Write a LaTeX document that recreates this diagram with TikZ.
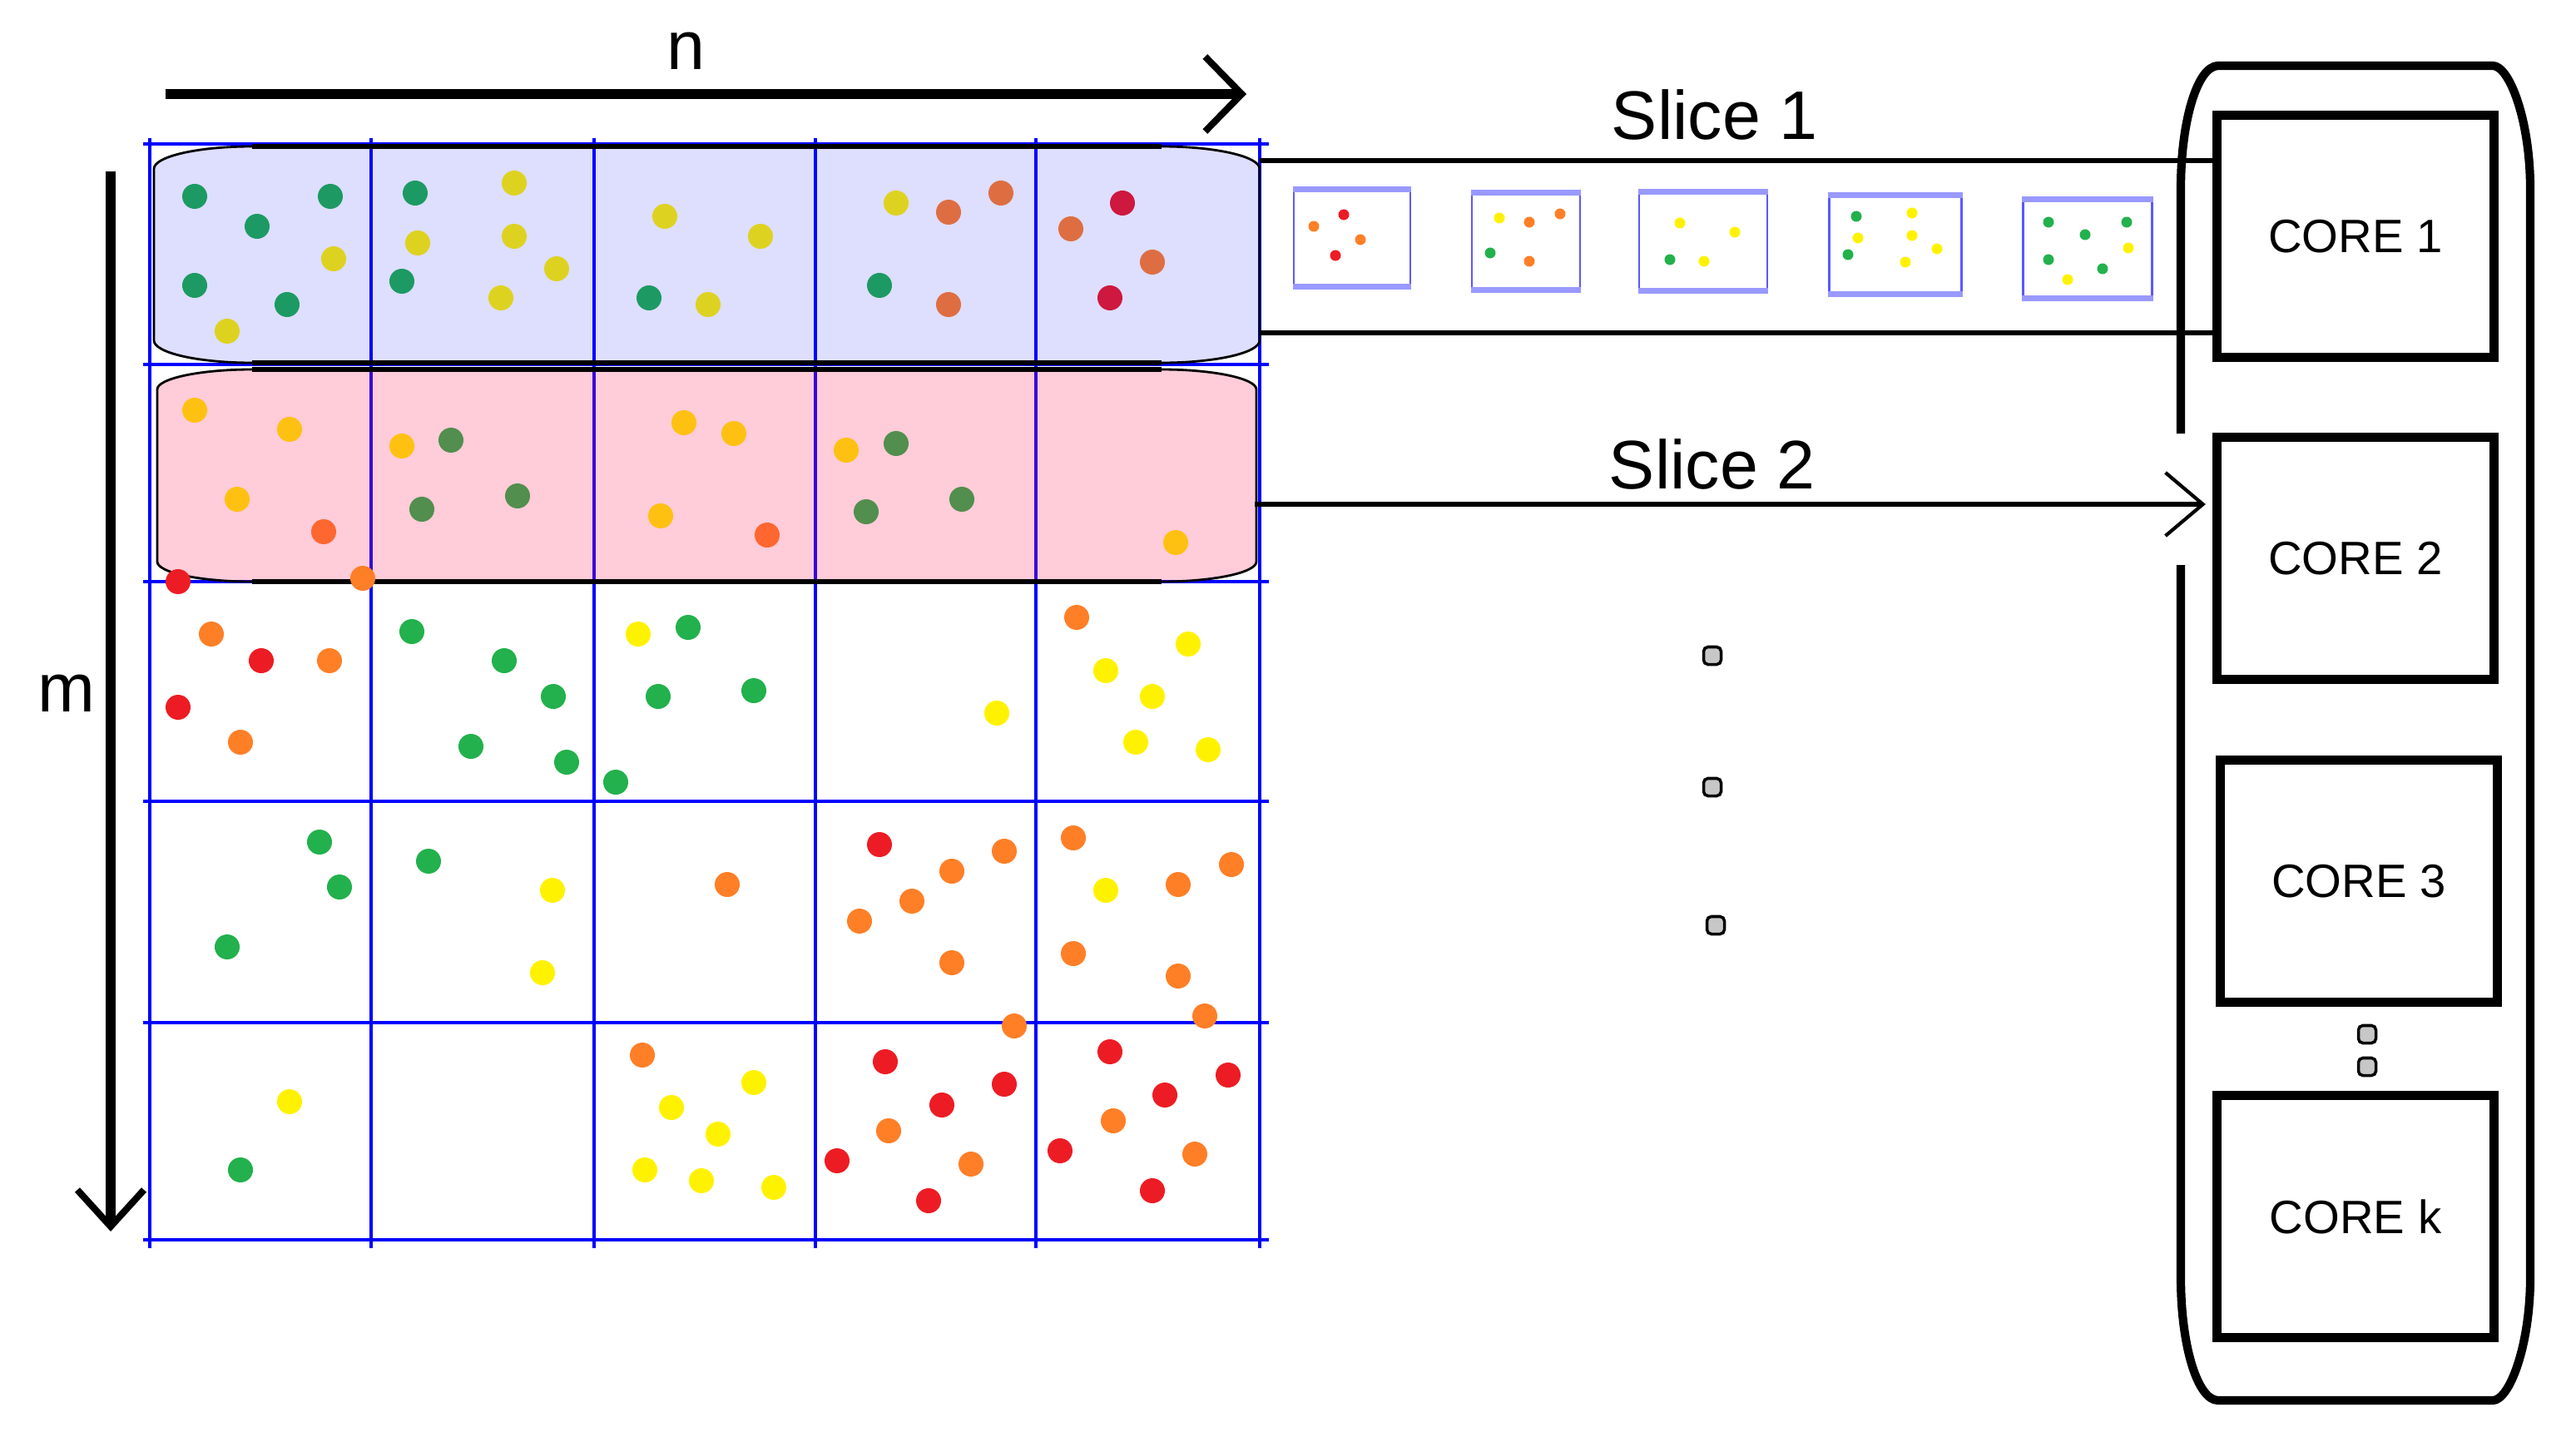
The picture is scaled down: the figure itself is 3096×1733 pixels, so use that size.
\documentclass[tikz,border=0pt]{standalone}
\usepackage{fontspec}
\setmainfont{Liberation Sans}
\usetikzlibrary{arrows.meta, calc}
\definecolor{dotR}{RGB}{237,28,36}
\definecolor{dotO}{RGB}{255,127,39}
\definecolor{dotY}{RGB}{255,242,0}
\definecolor{dotG}{RGB}{34,177,76}
\definecolor{slice-blue}{RGB}{0,0,255}
\definecolor{slice-pink}{RGB}{255,21,81}
\tikzset{
    my-grid/.style={
        draw=blue, line width=1.1pt
    },
    my-slice/.style={
        draw=black, line width=0.8pt
    },
    my-slice-edge/.style={
        draw=black, line width=1.5pt
    },
    my-core/.style={
        draw, line width=3.1pt, minimum width=3.33cm, minimum height=2.91cm,
        inner sep=0pt, font=\fontsize{16}{19}\selectfont
    },
    my-label/.style={
        inner sep=0pt, font=\fontsize{23.5}{28}\selectfont
    },
    my-tile/.style={
        draw=blue!65, line width=0.8pt, inner sep=0pt
    },
    my-tile-band/.style={
        draw=blue!40, line width=2pt
    },
    my-ellipsis/.style={
        draw, fill=black!22, line width=1pt, rounded corners=1.5pt,
        minimum size=0.21cm, inner sep=0pt
    },
}

\begin{document}
\begin{tikzpicture}[x=0.01cm, y=-0.01cm]
        \useasboundingbox (0,0) rectangle (3096,1733);

        % GRID
        \foreach \x in {180,446,714,980,1245,1514}
            \draw[my-grid] (\x,166) -- (\x,1500);
        \foreach \y in {173,438,699,963,1229,1490}
            \draw[my-grid] (172,\y) -- (1525,\y);

        % POINTS IN THE GRID
        \foreach \x/\y/\c in {
            234/236/G, 397/236/G, 309/272/G, 401/311/Y, 234/343/G, 345/366/G, 273/398/Y,
            499/232/G, 618/220/Y, 502/292/Y, 618/284/Y, 669/323/Y, 483/338/G, 602/358/Y,
            799/260/Y, 914/284/Y, 780/358/G, 851/366/Y,
            1077/244/Y, 1140/255/O, 1203/232/O, 1057/343/G, 1140/366/O,
            1349/244/R, 1287/275/O, 1385/315/O, 1334/358/R,
            234/493/Y, 348/516/Y, 285/600/Y, 389/639/O,
            483/536/Y, 542/529/G, 507/612/G, 622/596/G,
            822/508/Y, 882/521/Y, 794/620/Y, 922/643/O,
            1017/541/Y, 1077/533/G, 1041/615/G, 1156/600/G,
            1413/652/Y,
            254/762/O, 314/794/R, 396/794/O, 214/850/R, 289/892/O,
            495/759/G, 606/794/G, 665/837/G, 566/897/G, 681/916/G, 740/940/G,
            767/762/Y, 827/754/G, 791/837/G, 906/830/G,
            1198/857/Y,
            1294/742/O, 1428/774/Y, 1329/806/Y, 1385/837/Y, 1365/892/Y, 1452/901/Y,
            384/1012/G, 408/1066/G, 273/1138/G,
            515/1035/G, 664/1070/Y, 652/1169/Y,
            874/1063/O,
            1057/1015/R, 1207/1023/O, 1144/1047/O, 1096/1083/O, 1033/1107/O, 1144/1157/O,
            1290/1007/O, 1480/1039/O, 1329/1070/Y, 1416/1063/O, 1290/1146/O, 1416/1173/O,
            348/1324/Y, 289/1406/G,
            772/1268/O, 906/1301/Y, 807/1331/Y, 863/1363/Y, 775/1406/Y, 843/1419/Y, 930/1427/Y,
            1064/1276/R, 1207/1303/R, 1132/1328/R, 1068/1359/O, 1006/1395/R, 1167/1399/O, 1116/1443/R,
            1334/1264/R, 1476/1292/R, 1400/1316/R, 1338/1347/O, 1274/1383/R, 1436/1387/O, 1385/1431/R}
            \fill[dot\c] (\x,\y) circle[radius=0.15cm];

        % SLICE 1 AND SLICE 2 OVERLAYS
        \path[my-slice, fill=slice-blue, fill opacity=0.13]
            (303,176) -- (1396,176) .. controls (1461,176) and (1514,188) .. (1514,203)
            -- (1514,409) .. controls (1514,424) and (1461,436) .. (1396,436)
            -- (303,436) .. controls (238,436) and (185,424) .. (185,409)
            -- (185,203) .. controls (185,188) and (238,176) .. (303,176) -- cycle;
        \draw[my-slice-edge] (303,176) -- (1396,176);
        \draw[my-slice-edge] (303,436) -- (1396,436);
        \path[my-slice, fill=slice-pink, fill opacity=0.22]
            (303,444) -- (1396,444) .. controls (1459,444) and (1510,455) .. (1510,468)
            -- (1510,675) .. controls (1510,688) and (1459,699) .. (1396,699)
            -- (303,699) .. controls (240,699) and (189,688) .. (189,675)
            -- (189,468) .. controls (189,455) and (240,444) .. (303,444) -- cycle;
        \draw[my-slice-edge] (303,444) -- (1396,444);
        \draw[my-slice-edge] (303,699) -- (1396,699);

        % POINTS ON THE CELL BORDERS
        \foreach \x/\y/\c in {214/699/R, 436/695/O, 1219/1233/O, 1448/1221/O}
            \fill[dot\c] (\x,\y) circle[radius=0.15cm];

        % AXES
        \node[my-label, anchor=base] (N) at (824,83)  {n};
        \node[my-label, anchor=base] (M) at (80,855)  {m};
        \coordinate (NSTART) at (199,113);
        \coordinate (NEND)   at (1498,113);
        \coordinate (MSTART) at (133,206);
        \coordinate (MEND)   at (133,1480);
        \draw[line width=3.2pt, -{Straight Barb[length=4.4mm, width=9mm, line width=2.3pt]}] (NSTART) -- (NEND);
        \draw[line width=3.2pt, -{Straight Barb[length=4.4mm, width=8mm, line width=2.3pt]}] (MSTART) -- (MEND);

        % CORES
        \node[my-core] (CORE1) at (2831,284)                 {CORE 1};
        \node[my-core] (CORE2) at ($(CORE1) + (0,387)$)      {CORE 2};
        \node[my-core] (CORE3) at ($(CORE1) + (4,775)$)      {CORE 3};
        \node[my-core] (COREK) at ($(CORE1) + (0,1178)$)     {CORE k};

        % CONTAINER ROUND THE CORES (OPEN WHERE SLICE 2 ENTERS)
        \draw[line width=2.9pt]
            (2621,679) -- (2621,1535) .. controls (2621,1617) and (2641,1683) .. (2666,1683)
            -- (2996,1683) .. controls (3016,1683) and (3041,1617) .. (3041,1535)
            -- (3041,227) .. controls (3041,145) and (3016,79) .. (2996,79)
            -- (2666,79) .. controls (2641,79) and (2621,145) .. (2621,227)
            -- (2621,521);

        % SLICE 1 TILES
        \foreach \i/\x/\y/\w/\h in {1/1625/286/1.40/1.15, 2/1834/290/1.30/1.15, 3/2047/290/1.54/1.16,
                                    4/2278/294/1.59/1.16, 5/2509/299/1.55/1.17} {
            \node[my-tile, minimum width=\w cm, minimum height=\h cm] (TILE\i) at (\x,\y) {};
            \draw[my-tile-band] (TILE\i.north west) -- (TILE\i.north east);
            \draw[my-tile-band] (TILE\i.south west) -- (TILE\i.south east);
        }
        \foreach \x/\y/\c in {
            1615/258/R, 1579/272/O, 1635/288/O, 1605/307/R,
            1802/262/Y, 1838/267/O, 1875/257/O, 1791/304/G, 1838/314/O,
            2019/268/Y, 2085/279/Y, 2007/312/G, 2048/314/Y,
            2231/260/G, 2298/256/Y, 2233/286/Y, 2298/283/Y, 2328/299/Y, 2221/306/G, 2290/315/Y,
            2462/267/G, 2556/267/G, 2506/282/G, 2558/298/Y, 2462/312/G, 2527/323/G, 2485/336/Y}
            \fill[dot\c] (\x,\y) circle[radius=0.065cm];

        % SLICE 1 WIRES
        \coordinate (S1TOP) at (1514,193);
        \coordinate (S1BOT) at (1514,400);
        \draw[line width=1.7pt] (S1TOP) -- (S1TOP -| CORE1.west);
        \draw[line width=1.7pt] (S1BOT) -- (S1BOT -| CORE1.west);
        \node[my-label, anchor=base] (SLICE1) at (2061,167) {Slice 1};

        % SLICE 2 ARROW
        \coordinate (S2OUT) at (1508,606);
        \draw[line width=1.7pt, shorten >=2.3pt, -{Straight Barb[length=4.5mm, width=7.6mm, line width=1.2pt]}]
            (S2OUT) -- (S2OUT -| CORE2.west);
        \node[my-label, anchor=base] (SLICE2) at (2058,587) {Slice 2};

        % ELLIPSES
        \foreach \i/\x/\y in {1/2058/788, 2/2058/946, 3/2062/1112, 4/2845/1243, 5/2845/1282}
            \node[my-ellipsis] (DOTS\i) at (\x,\y) {};

\end{tikzpicture}
\end{document}
